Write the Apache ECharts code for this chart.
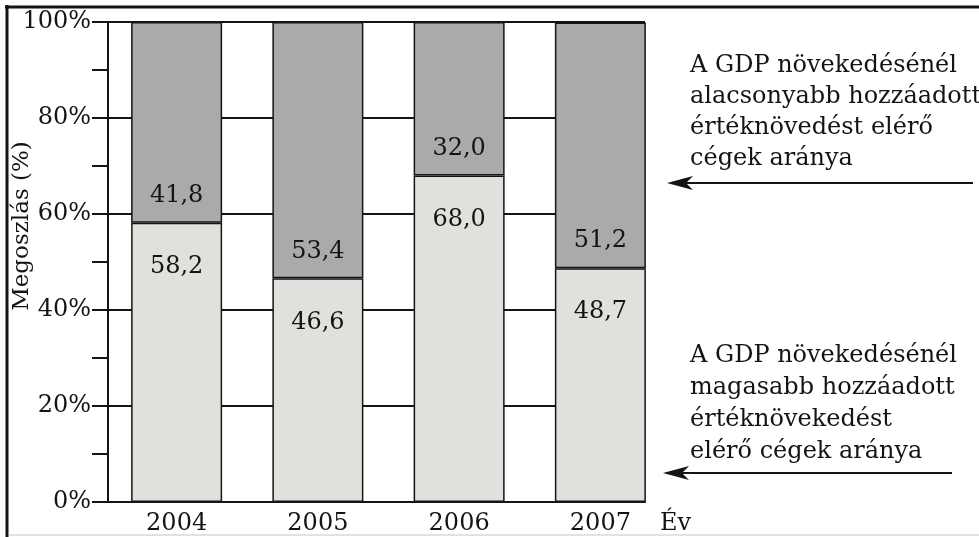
<!DOCTYPE html>
<html>
<head>
<meta charset="utf-8">
<script src="https://cdn.jsdelivr.net/npm/echarts@6/dist/echarts.min.js"></script>
<style>
  html, body { margin: 0; padding: 0; background: #fff; }
  #chart { width: 979px; height: 537px; }
</style>
</head>
<body>
<div id="chart"></div>
<script>
// Years on the category axis
const years = ['2004', '2005', '2006', '2007'];
// Share of firms with value-added growth above GDP growth (%)
const higherShare = [58.2, 46.6, 68.0, 48.7];
// Share of firms with value-added growth below GDP growth (%)
const lowerShare = [41.8, 53.4, 32.0, 51.2];
// Y axis range and label step (%)
const yMin = 0;
const yMax = 100;
const yStep = 20;

const FONT = '"DejaVu Serif", "Liberation Serif", serif';
const INK = '#141414';

const fmt = v => v.toFixed(1).replace('.', ',');

const chart = echarts.init(document.getElementById('chart'));

chart.setOption({
  backgroundColor: '#ffffff',
  animation: false,
  textStyle: { fontFamily: FONT, color: INK },
  grid: [
    // bars
    { left: 106, top: 22, width: 565, height: 480 },
    // frame: y axis, gridlines, baseline
    { left: 108, top: 22, width: 537, height: 480 }
  ],
  xAxis: [
    {
      type: 'category', gridIndex: 0, data: years,
      axisLine: { show: false }, axisTick: { show: false },
      axisLabel: { margin: 10, fontSize: 24, color: INK, fontFamily: FONT }
    },
    {
      type: 'value', gridIndex: 1, min: 0, max: 1,
      axisLine: { show: true, lineStyle: { color: INK, width: 2 } },
      axisTick: { show: false }, axisLabel: { show: false },
      splitLine: { show: false },
      name: 'Év', nameLocation: 'end', nameGap: 15,
      nameTextStyle: { fontSize: 24, color: INK, fontFamily: FONT, verticalAlign: 'top', padding: [10, 0, 0, 0] }
    }
  ],
  yAxis: [
    { type: 'value', gridIndex: 0, min: yMin, max: yMax, show: false },
    {
      type: 'value', gridIndex: 1, min: yMin, max: yMax, interval: yStep,
      axisLine: { show: true, lineStyle: { color: INK, width: 2 } },
      axisTick: { show: true, length: 16, lineStyle: { color: INK, width: 2 } },
      minorTick: { show: true, splitNumber: 2, length: 16, lineStyle: { color: INK, width: 2 } },
      axisLabel: { formatter: '{value}%', margin: 17, fontSize: 24, color: INK, fontFamily: FONT },
      splitLine: { show: true, lineStyle: { color: INK, width: 2 } }
    }
  ],
  series: [
    {
      type: 'bar', name: 'magasabb', stack: 'total',
      xAxisIndex: 0, yAxisIndex: 0, barWidth: 91,
      data: higherShare,
      itemStyle: { color: '#e0e0dd', borderColor: INK, borderWidth: 1.5 },
      label: {
        show: true, position: 'insideTop', distance: 32,
        fontSize: 24, color: INK, fontFamily: FONT,
        formatter: p => fmt(p.value)
      }
    },
    {
      type: 'bar', name: 'alacsonyabb', stack: 'total',
      xAxisIndex: 0, yAxisIndex: 0, barWidth: 91,
      data: lowerShare,
      itemStyle: { color: '#aaaaaa', borderColor: INK, borderWidth: 1.5 },
      label: {
        show: true, position: 'insideBottom', distance: 15,
        fontSize: 24, color: INK, fontFamily: FONT,
        formatter: p => fmt(p.value)
      }
    }
  ],
  graphic: [
    // page frame
    { type: 'line', shape: { x1: 5, y1: 7, x2: 979, y2: 7 }, style: { stroke: INK, lineWidth: 3 }, silent: true },
    { type: 'line', shape: { x1: 7, y1: 5, x2: 7, y2: 537 }, style: { stroke: INK, lineWidth: 3 }, silent: true },
    { type: 'line', shape: { x1: 9, y1: 535, x2: 979, y2: 535 }, style: { stroke: '#e2e2e2', lineWidth: 2 }, silent: true },
    // y axis title
    {
      type: 'text', x: 22, y: 226, rotation: Math.PI / 2, silent: true,
      style: { text: 'Megoszlás (%)', fontSize: 23, fontFamily: FONT, fill: INK, align: 'center', verticalAlign: 'middle' }
    },
    // upper annotation
    {
      type: 'text', x: 690, y: 50, silent: true,
      style: {
        text: 'A GDP növekedésénél\nalacsonyabb hozzáadott\nértéknövedést elérő\ncégek aránya',
        fontSize: 24, fontFamily: FONT, lineHeight: 31, fill: INK, align: 'left', verticalAlign: 'top'
      }
    },
    { type: 'line', shape: { x1: 684, y1: 183, x2: 973, y2: 183 }, style: { stroke: INK, lineWidth: 2 }, silent: true },
    { type: 'polygon', shape: { points: [[667, 183], [693, 176], [686, 183], [693, 190]] }, style: { fill: INK }, silent: true },
    // lower annotation
    {
      type: 'text', x: 690, y: 340, silent: true,
      style: {
        text: 'A GDP növekedésénél\nmagasabb hozzáadott\nértéknövekedést\nelérő cégek aránya',
        fontSize: 24, fontFamily: FONT, lineHeight: 32, fill: INK, align: 'left', verticalAlign: 'top'
      }
    },
    { type: 'line', shape: { x1: 680, y1: 473, x2: 952, y2: 473 }, style: { stroke: INK, lineWidth: 2 }, silent: true },
    { type: 'polygon', shape: { points: [[663, 473], [689, 466], [682, 473], [689, 480]] }, style: { fill: INK }, silent: true }
  ]
});
</script>
</body>
</html>
